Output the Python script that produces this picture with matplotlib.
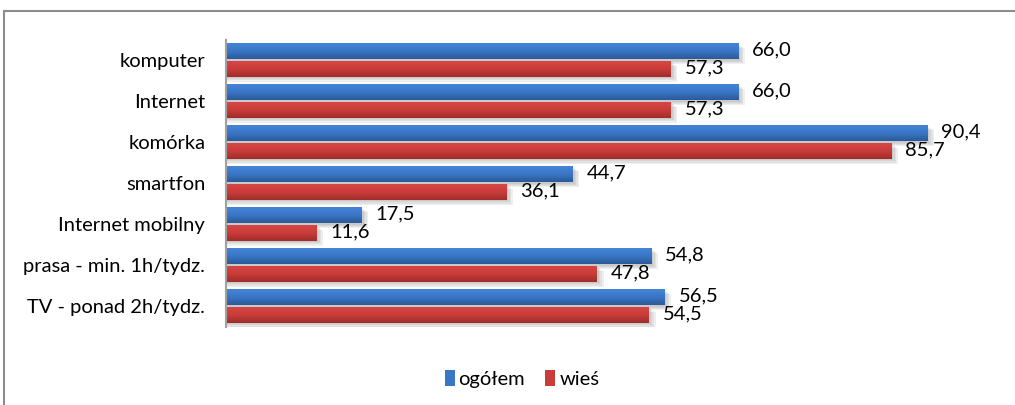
import numpy as np
import matplotlib.pyplot as plt
from matplotlib.patches import Rectangle
from matplotlib.colors import LinearSegmentedColormap

# dane: odsetek (%) - ogółem vs wieś
kategorie = ["komputer", "Internet", "komórka", "smartfon", "Internet mobilny",
             "prasa - min. 1h/tydz.", "TV - ponad 2h/tydz."]
ogolem = [66.0, 66.0, 90.4, 44.7, 17.5, 54.8, 56.5]
wies = [57.3, 57.3, 85.7, 36.1, 11.6, 47.8, 54.5]

plt.rcParams['font.family'] = ['Lato', 'DejaVu Sans']
FS = 14.5

fig = plt.figure(figsize=(10.15, 4.05), dpi=100)
ax = fig.add_axes([226 / 1015, 1 - 326.5 / 405, 776 / 1015, 287 / 405])

# ramka wykresu
fig.patches.append(Rectangle((4 / 1015, -0.1), 1.2, 1 - 11 / 405 + 0.1,
                             transform=fig.transFigure, fill=False,
                             edgecolor='#8c8c8c', linewidth=1.5))

blue_cm = LinearSegmentedColormap.from_list('b', ['#4585d6', '#3a76c6', '#2b5a98'])
red_cm = LinearSegmentedColormap.from_list('r', ['#d64644', '#c93c3a', '#a02d2b'])

h = 0.39
y = np.arange(len(kategorie))
grad = np.linspace(0, 1, 50).reshape(-1, 1)


def bar(yc, val, cmap):
    # miękki cień pod słupkiem
    for k in range(4):
        d = 0.025 * k
        ax.add_patch(Rectangle((0, yc - h / 2 + 0.04 + d), val + 0.25 + 0.2 * k, h,
                               facecolor='#808080', alpha=0.12, edgecolor='none', zorder=1))
    ax.imshow(grad, cmap=cmap, aspect='auto', zorder=2,
              extent=(0, val, yc + h / 2, yc - h / 2), interpolation='bilinear')


for i, (a, b) in enumerate(zip(ogolem, wies)):
    bar(i - h / 2 - 0.02, a, blue_cm)
    bar(i + h / 2 + 0.02, b, red_cm)
    ax.text(a + 1.8, i - h / 2 - 0.04, f"{a:.1f}".replace('.', ','),
            va='center', ha='left', fontsize=FS)
    ax.text(b + 1.8, i + h / 2, f"{b:.1f}".replace('.', ','),
            va='center', ha='left', fontsize=FS)

ax.set_xlim(0, 100)
ax.set_ylim(len(kategorie) - 0.5, -0.5)
ax.set_yticks(y)
ax.set_yticklabels(kategorie, fontsize=FS)
ax.tick_params(axis='y', length=0, pad=15)
ax.set_xticks([])
for s in ['top', 'right', 'bottom']:
    ax.spines[s].set_visible(False)
ax.spines['left'].set_color('#a0a0a0')
ax.spines['left'].set_linewidth(1.5)
ax.spines['left'].set_zorder(5)

# legenda
handles = [Rectangle((0, 0), 1, 1, facecolor='#3a76c6'),
           Rectangle((0, 0), 1, 1, facecolor='#c93c3a')]
fig.legend(handles, ['ogółem', 'wieś'], loc='center', bbox_to_anchor=(522 / 1015, 1 - 379 / 405),
           ncol=2, frameon=False, fontsize=FS, handlelength=0.5, handleheight=0.8,
           handletextpad=0.2, columnspacing=1.0)

fig.savefig('out.png', dpi=100)
